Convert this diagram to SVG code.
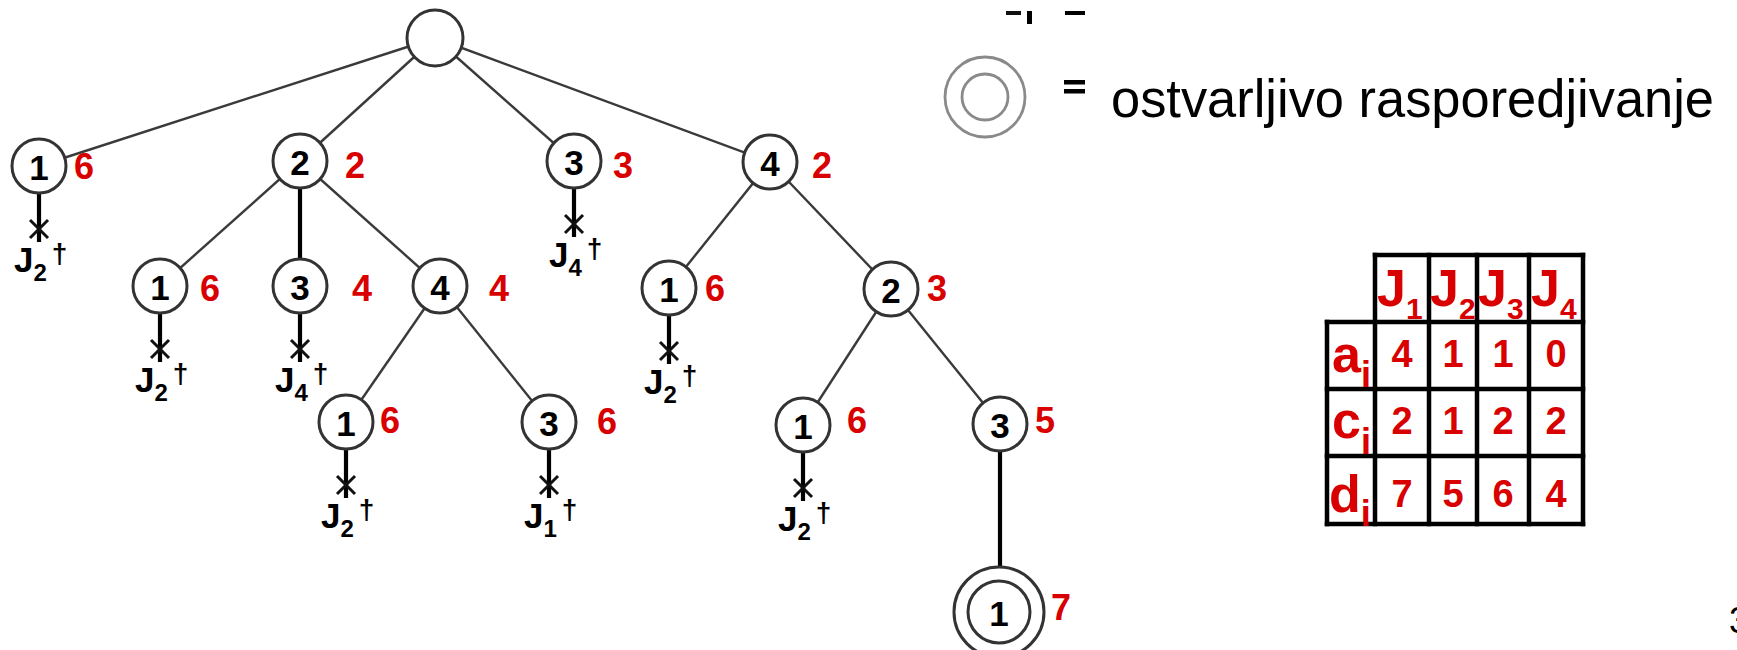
<svg xmlns="http://www.w3.org/2000/svg" width="1737" height="650" viewBox="0 0 1737 650">
<style>
.edge{stroke:#3a3a3a;stroke-width:2.4;fill:none}
.vedge{stroke:#000;stroke-width:4.2;fill:none}
.node{fill:#fff;stroke:#333;stroke-width:3}
.leg{fill:none;stroke:#8a8a8a;stroke-width:2.8}
.t{font-family:"Liberation Sans",Arial,Helvetica,sans-serif}
.num{font-family:"Liberation Sans",Arial,sans-serif;font-weight:bold;font-size:35px;text-anchor:middle;fill:#000}
.cost{font-family:"Liberation Sans",Arial,sans-serif;font-weight:bold;font-size:36px;text-anchor:middle;fill:#d80000}
.jl{font-family:"Liberation Sans",Arial,sans-serif;font-weight:bold;font-size:35px;fill:#000}
.js{font-size:24px}
.jd{font-size:28px}
.x{stroke:#111;stroke-width:3}
.grid{stroke:#000;stroke-width:4.5;stroke-linecap:square}
.th{font-family:"Liberation Sans",Arial,sans-serif;font-weight:bold;font-size:52px;fill:#d80000}
.ths{font-size:30px}
.rs{font-size:36px}
.cell{font-family:"Liberation Sans",Arial,sans-serif;font-weight:bold;font-size:38px;fill:#d80000;text-anchor:middle}
</style>

<g id="connectors">
  <line class="edge" x1="435" y1="38" x2="39" y2="166"/>
  <line class="edge" x1="435" y1="38" x2="300" y2="161"/>
  <line class="edge" x1="435" y1="38" x2="574" y2="161"/>
  <line class="edge" x1="435" y1="38" x2="770" y2="162"/>
  <line class="edge" x1="300" y1="161" x2="160" y2="286"/>
  <line class="vedge" x1="300" y1="161" x2="300" y2="286"/>
  <line class="edge" x1="300" y1="161" x2="440" y2="286"/>
  <line class="edge" x1="770" y1="162" x2="669" y2="288"/>
  <line class="edge" x1="770" y1="162" x2="891" y2="289"/>
  <line class="edge" x1="440" y1="286" x2="346" y2="422"/>
  <line class="edge" x1="440" y1="286" x2="549" y2="422"/>
  <line class="edge" x1="891" y1="289" x2="803" y2="425"/>
  <line class="edge" x1="891" y1="289" x2="1000" y2="424"/>
  <line class="vedge" x1="1000" y1="424" x2="1000" y2="568"/>
  <line class="vedge" x1="39" y1="193" x2="39" y2="242"/>
  <line class="vedge" x1="574" y1="188" x2="574" y2="237"/>
  <line class="vedge" x1="160" y1="313" x2="160" y2="362"/>
  <line class="vedge" x1="300" y1="313" x2="300" y2="362"/>
  <line class="vedge" x1="346" y1="449" x2="346" y2="498"/>
  <line class="vedge" x1="549" y1="449" x2="549" y2="498"/>
  <line class="vedge" x1="669" y1="315" x2="669" y2="364"/>
  <line class="vedge" x1="803" y1="452" x2="803" y2="501"/>
</g>

<g id="root"><circle class="node" cx="435" cy="38" r="28"/></g>

<g id="n1"><circle class="node" cx="39" cy="166" r="27"/><text class="num" x="39" y="180">1</text><text class="cost" x="84" y="179">6</text></g>
<g id="n2"><circle class="node" cx="300" cy="161" r="27"/><text class="num" x="300" y="175">2</text><text class="cost" x="355" y="178">2</text></g>
<g id="n3"><circle class="node" cx="574" cy="161" r="27"/><text class="num" x="574" y="175">3</text><text class="cost" x="623" y="178">3</text></g>
<g id="n4"><circle class="node" cx="770" cy="162" r="27"/><text class="num" x="770" y="176">4</text><text class="cost" x="822" y="178">2</text></g>

<g id="n21"><circle class="node" cx="160" cy="286" r="27"/><text class="num" x="160" y="300">1</text><text class="cost" x="210" y="301">6</text></g>
<g id="n23"><circle class="node" cx="300" cy="286" r="27"/><text class="num" x="300" y="300">3</text><text class="cost" x="362" y="301">4</text></g>
<g id="n24"><circle class="node" cx="440" cy="286" r="27"/><text class="num" x="440" y="300">4</text><text class="cost" x="499" y="301">4</text></g>
<g id="n41"><circle class="node" cx="669" cy="288" r="27"/><text class="num" x="669" y="302">1</text><text class="cost" x="715" y="301">6</text></g>
<g id="n42"><circle class="node" cx="891" cy="289" r="27"/><text class="num" x="891" y="303">2</text><text class="cost" x="937" y="301">3</text></g>

<g id="n241"><circle class="node" cx="346" cy="422" r="27"/><text class="num" x="346" y="436">1</text><text class="cost" x="390" y="433">6</text></g>
<g id="n243"><circle class="node" cx="549" cy="422" r="27"/><text class="num" x="549" y="436">3</text><text class="cost" x="607" y="434">6</text></g>
<g id="n421"><circle class="node" cx="803" cy="425" r="27"/><text class="num" x="803" y="439">1</text><text class="cost" x="857" y="433">6</text></g>
<g id="n423"><circle class="node" cx="1000" cy="424" r="27"/><text class="num" x="1000" y="438">3</text><text class="cost" x="1045" y="433">5</text></g>

<g id="n4231"><circle class="node" cx="999" cy="612" r="45"/><circle class="node" cx="999" cy="612" r="31"/><text class="num" x="999" y="626">1</text><text class="cost" x="1061" y="620">7</text></g>

<g id="leaf1"><line class="x" x1="30" y1="220" x2="48" y2="238"/><line class="x" x1="48" y1="220" x2="30" y2="238"/><text class="jl" x="14" y="272">J<tspan class="js" dy="9">2</tspan><tspan class="jd" dx="5" dy="-18">†</tspan></text></g>
<g id="leaf3"><line class="x" x1="565" y1="215" x2="583" y2="233"/><line class="x" x1="583" y1="215" x2="565" y2="233"/><text class="jl" x="549" y="267">J<tspan class="js" dy="9">4</tspan><tspan class="jd" dx="5" dy="-18">†</tspan></text></g>
<g id="leaf21"><line class="x" x1="151" y1="340" x2="169" y2="358"/><line class="x" x1="169" y1="340" x2="151" y2="358"/><text class="jl" x="135" y="392">J<tspan class="js" dy="9">2</tspan><tspan class="jd" dx="5" dy="-18">†</tspan></text></g>
<g id="leaf23"><line class="x" x1="291" y1="340" x2="309" y2="358"/><line class="x" x1="309" y1="340" x2="291" y2="358"/><text class="jl" x="275" y="392">J<tspan class="js" dy="9">4</tspan><tspan class="jd" dx="5" dy="-18">†</tspan></text></g>
<g id="leaf241"><line class="x" x1="337" y1="476" x2="355" y2="494"/><line class="x" x1="355" y1="476" x2="337" y2="494"/><text class="jl" x="321" y="528">J<tspan class="js" dy="9">2</tspan><tspan class="jd" dx="5" dy="-18">†</tspan></text></g>
<g id="leaf243"><line class="x" x1="540" y1="476" x2="558" y2="494"/><line class="x" x1="558" y1="476" x2="540" y2="494"/><text class="jl" x="524" y="528">J<tspan class="js" dy="9">1</tspan><tspan class="jd" dx="5" dy="-18">†</tspan></text></g>
<g id="leaf41"><line class="x" x1="660" y1="342" x2="678" y2="360"/><line class="x" x1="678" y1="342" x2="660" y2="360"/><text class="jl" x="644" y="394">J<tspan class="js" dy="9">2</tspan><tspan class="jd" dx="5" dy="-18">†</tspan></text></g>
<g id="leaf421"><line class="x" x1="794" y1="479" x2="812" y2="497"/><line class="x" x1="812" y1="479" x2="794" y2="497"/><text class="jl" x="778" y="531">J<tspan class="js" dy="9">2</tspan><tspan class="jd" dx="5" dy="-18">†</tspan></text></g>

<g id="legend">
  <rect x="1006" y="11" width="15" height="4" fill="#111"/>
  <rect x="1027" y="11" width="5" height="13" fill="#000"/>
  <rect x="1065" y="11" width="20" height="4" fill="#000"/>
  <circle class="leg" cx="985" cy="97" r="40"/>
  <circle class="leg" cx="985" cy="97" r="23"/>
  <rect x="1064" y="80" width="21" height="4.5" fill="#000"/>
  <rect x="1064" y="89" width="21" height="4.5" fill="#000"/>
  <text class="t" x="1111" y="117" font-size="53" textLength="603" lengthAdjust="spacingAndGlyphs" fill="#000">ostvarljivo rasporedjivanje</text>
</g>

<g id="table">
  <line class="grid" x1="1375" y1="255" x2="1583" y2="255"/>
  <line class="grid" x1="1327" y1="322" x2="1583" y2="322"/>
  <line class="grid" x1="1327" y1="389" x2="1583" y2="389"/>
  <line class="grid" x1="1327" y1="456" x2="1583" y2="456"/>
  <line class="grid" x1="1327" y1="524" x2="1583" y2="524"/>
  <line class="grid" x1="1327" y1="322" x2="1327" y2="524"/>
  <line class="grid" x1="1375" y1="255" x2="1375" y2="524"/>
  <line class="grid" x1="1429" y1="255" x2="1429" y2="524"/>
  <line class="grid" x1="1477" y1="255" x2="1477" y2="524"/>
  <line class="grid" x1="1529" y1="255" x2="1529" y2="524"/>
  <line class="grid" x1="1583" y1="255" x2="1583" y2="524"/>
  <text class="th" x="1377" y="306">J<tspan class="ths" dy="13">1</tspan></text>
  <text class="th" x="1430" y="306">J<tspan class="ths" dy="13">2</tspan></text>
  <text class="th" x="1478" y="306">J<tspan class="ths" dy="13">3</tspan></text>
  <text class="th" x="1531" y="306">J<tspan class="ths" dy="13">4</tspan></text>
  <text class="th" x="1332" y="372">a<tspan class="rs" dy="15">i</tspan></text>
  <text class="th" x="1332" y="438">c<tspan class="rs" dy="16">i</tspan></text>
  <text class="th" x="1329" y="512">d<tspan class="rs" dy="14">i</tspan></text>
  <text class="cell" x="1402" y="367">4</text><text class="cell" x="1453" y="367">1</text><text class="cell" x="1503" y="367">1</text><text class="cell" x="1556" y="367">0</text>
  <text class="cell" x="1402" y="434">2</text><text class="cell" x="1453" y="434">1</text><text class="cell" x="1503" y="434">2</text><text class="cell" x="1556" y="434">2</text>
  <text class="cell" x="1402" y="507">7</text><text class="cell" x="1453" y="507">5</text><text class="cell" x="1503" y="507">6</text><text class="cell" x="1556" y="507">4</text>
</g>

<g id="page"><text class="t" x="1729" y="633" font-size="36" fill="#000">3</text></g>
</svg>
